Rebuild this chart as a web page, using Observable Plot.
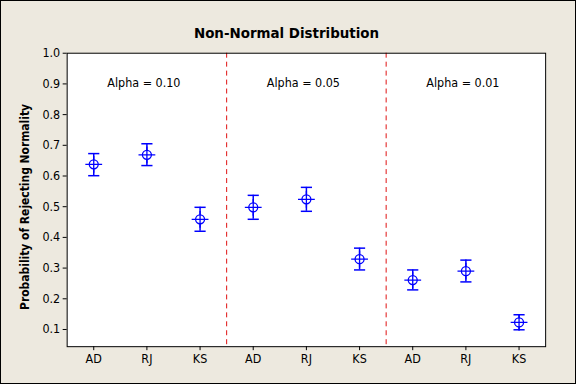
<!DOCTYPE html>
<html>
<head>
<meta charset="utf-8">
<script src="https://cdn.jsdelivr.net/npm/d3@7"></script>
<script src="https://cdn.jsdelivr.net/npm/@observablehq/plot@0.6"></script>
<style>
  html, body { margin: 0; padding: 0; background: #ffffff; }
  #wrap { position: relative; width: 576px; height: 384px; box-sizing: border-box;
          border: 1px solid #000; background: #ede9df; overflow: visible; }
  #wrap svg { position: absolute; left: -1px; top: -1px; background: transparent; }
</style>
</head>
<body>
<div id="wrap"></div>
<script>
const title = "Non-Normal Distribution";
const yLabel = "Probability of Rejecting Normality";
const tests = ["AD", "RJ", "KS"];
const alphas = ["Alpha = 0.10", "Alpha = 0.05", "Alpha = 0.01"];
const means = [0.638, 0.669, 0.459, 0.498, 0.524, 0.329, 0.261, 0.290, 0.123];
const upper = [0.673, 0.705, 0.498, 0.537, 0.563, 0.365, 0.294, 0.326, 0.148];
const lower = [0.601, 0.634, 0.420, 0.459, 0.485, 0.294, 0.229, 0.255, 0.099];
const yTicks = [0.1, 0.2, 0.3, 0.4, 0.5, 0.6, 0.7, 0.8, 0.9, 1.0];

const data = means.map((m, i) => ({
  x: i, test: tests[i % 3], group: Math.floor(i / 3), mean: m, lo: lower[i], hi: upper[i]
}));
const dividers = alphas.slice(1).map((_, g) => (g + 1) * tests.length - 0.5);
const panels = alphas.map((a, g) => ({label: a, x: g * tests.length + (tests.length - 1) / 2}));

const blue = "#0000ff";
const capHalf = 0.105;
const font = "'DejaVu Sans Condensed', 'DejaVu Sans', sans-serif";

const chart = Plot.plot({
  width: 577,
  height: 385,
  marginLeft: 67,
  marginRight: 29,
  marginTop: 53,
  marginBottom: 37,
  style: {background: "transparent", fontFamily: font, fontSize: "12px", color: "#000", fontStretch: "condensed"},
  x: {type: "linear", domain: [-0.5, 8.5]},
  y: {domain: [0.044, 1.0]},
  marks: [
    Plot.frame({fill: "white", stroke: "none"}),
    Plot.ruleX(dividers, {stroke: "#e01010", strokeDasharray: "5,4", strokeWidth: 1}),
    Plot.frame({stroke: "black", strokeWidth: 1}),
    Plot.axisY(yTicks, {tickSize: 4, tickPadding: 3, tickFormat: d3.format(".1f"), label: null, fontSize: 12.5}),
    Plot.axisX(data.map(d => d.x), {tickSize: 4, tickPadding: 4, tickFormat: i => tests[i % 3], label: null, fontSize: 12.5}),
    Plot.ruleX(data, {x: "x", y1: "lo", y2: "hi", stroke: blue, strokeWidth: 1.5}),
    Plot.link(data, {x1: d => d.x - capHalf, x2: d => d.x + capHalf, y1: "hi", y2: "hi", stroke: blue, strokeWidth: 1.5}),
    Plot.link(data, {x1: d => d.x - capHalf, x2: d => d.x + capHalf, y1: "lo", y2: "lo", stroke: blue, strokeWidth: 1.5}),
    Plot.dot(data, {x: "x", y: "mean", symbol: "circle", r: 4.5, fill: "white", stroke: blue, strokeWidth: 1.3}),
    Plot.dot(data, {x: "x", y: "mean", symbol: "plus", r: 5.5, stroke: blue, strokeWidth: 1.3}),
    Plot.text(panels, {x: "x", text: "label", frameAnchor: "top", dy: 25, dx: -3, fontSize: 12.5, fill: "black"}),
    Plot.text([title], {text: d => d, frameAnchor: "top", dx: -20, dy: -26, fontSize: 15, fontWeight: "bold", fill: "black"}),
    Plot.text([yLabel], {text: d => d, frameAnchor: "left", textAnchor: "middle", rotate: -90, dx: -42, dy: 7, fontSize: 12, fontWeight: "bold", fill: "black"})
  ]
});
document.getElementById("wrap").appendChild(chart);
</script>
</body>
</html>
